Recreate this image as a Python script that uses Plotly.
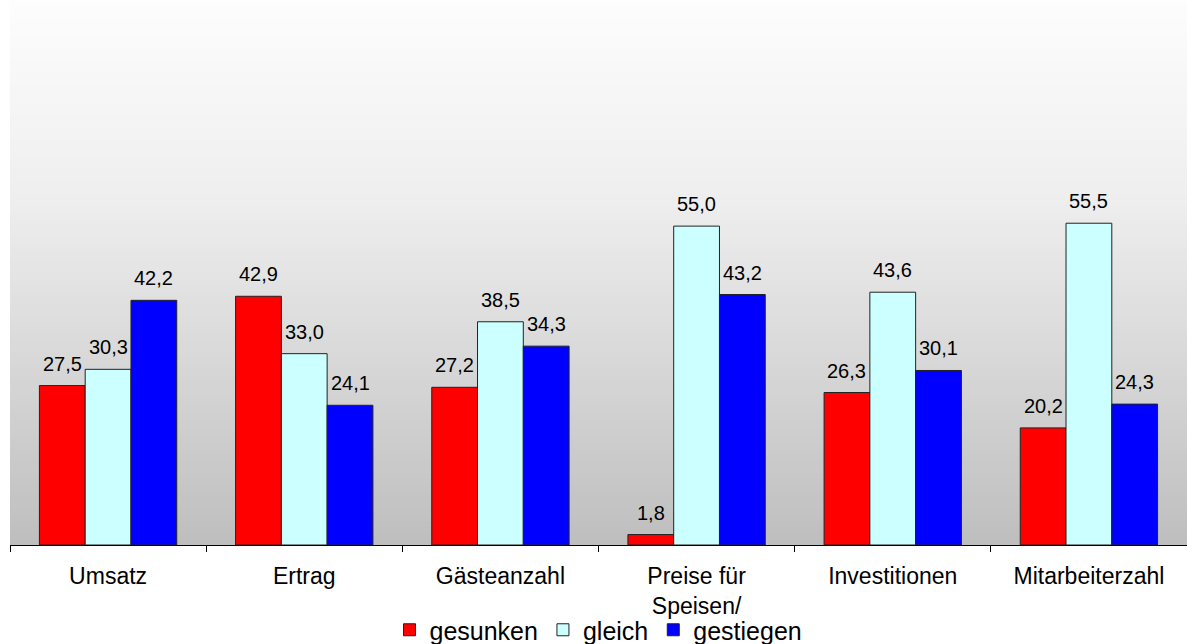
import plotly.graph_objects as go

categories = ["Umsatz", "Ertrag", "Gästeanzahl", "Preise für<br>Speisen/", "Investitionen", "Mitarbeiterzahl"]
series_names = ["gesunken", "gleich", "gestiegen"]
gesunken = [27.5, 42.9, 27.2, 1.8, 26.3, 20.2]
gleich = [30.3, 33.0, 38.5, 55.0, 43.6, 55.5]
gestiegen = [42.2, 24.1, 34.3, 43.2, 30.1, 24.3]
colors = ["#ff0000", "#ccffff", "#0000ff"]

series = [gesunken, gleich, gestiegen]
bargap = 0.3
fig = go.Figure()

# gradient background (styling strips, each extending down to the bottom so no seams)
N = 90
def gray_at(t):  # t: 0 top -> 1 bottom
    stops = [(0.0, 253), (0.37, 238), (1.0, 190)]
    for (t0, c0), (t1, c1) in zip(stops[:-1], stops[1:]):
        if t <= t1:
            return c0 + (c1 - c0) * (t - t0) / (t1 - t0)
    return stops[-1][1]
for k in range(N):
    y1 = 1 - k / N
    g = int(round(gray_at((k + 0.5) / N)))
    fig.add_shape(type="rect", xref="x domain", yref="y domain", x0=0, x1=1, y0=0, y1=y1,
                  fillcolor=f"rgb({g},{g},{g})", line=dict(width=0), layer="below")

for name, vals, col in zip(series_names, series, colors):
    fig.add_trace(go.Bar(x=categories, y=vals, name=name,
                         marker=dict(color=col, line=dict(color="#222222", width=1))))

bw = (1 - bargap) / 3
for i, vals in enumerate(series):
    for j, v in enumerate(vals):
        fig.add_annotation(x=j + (i - 1) * bw, y=v, text=f"{v:.1f}".replace(".", ","), showarrow=False,
                           yshift=22, yanchor="middle", xanchor="center",
                           font=dict(size=20, color="black", family="Liberation Sans, Arial"))

fig.update_layout(
    width=1187, height=644,
    margin=dict(l=10, r=0, t=0, b=99, autoexpand=False),
    paper_bgcolor="white",
    plot_bgcolor="rgba(0,0,0,0)",
    barmode="group", bargap=bargap, bargroupgap=0,
    font=dict(family="Liberation Sans, Arial", color="black"),
    separators=",.",
    showlegend=True,
    legend=dict(orientation="h", x=0.5, xanchor="center", y=-0.156, yanchor="middle",
                font=dict(size=25), itemwidth=30, bgcolor="rgba(0,0,0,0)", traceorder="normal"),
    xaxis=dict(showline=True, linecolor="black", linewidth=1, ticks="outside", tickson="boundaries",
               ticklen=6, tickcolor="black", tickfont=dict(size=23), showgrid=False,
               ticklabelstandoff=10, range=[-0.5, 5.5]),
    yaxis=dict(range=[0, 94], visible=False, showgrid=False, zeroline=False),
)

fig.write_html("out.html", config={"displayModeBar": False},
               post_script="document.body.style.margin='0';document.body.style.overflow='hidden';")
